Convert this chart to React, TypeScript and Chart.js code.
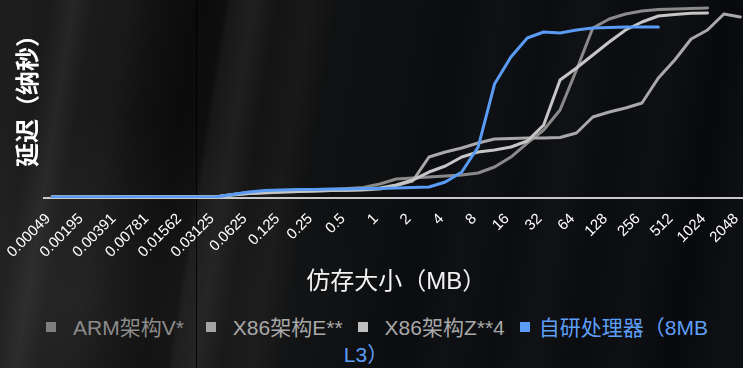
import React, { useEffect, useRef } from 'react';
import { Chart, registerables } from 'chart.js';

Chart.register(...registerables);

// Visible cache-size tick labels (MB); measurements were taken at half steps between them
const sizeLabels = ['0.00049', '0.00195', '0.00391', '0.00781', '0.01562', '0.03125', '0.0625', '0.125', '0.25', '0.5', '1', '2', '4', '8', '16', '32', '64', '128', '256', '512', '1024', '2048'];
const categories = sizeLabels.flatMap((l, i) => (i < sizeLabels.length - 1 ? [l, ''] : [l]));

// latency (ns), one value per measurement point (43 points)
const armV = [1.3, 1.3, 1.3, 1.3, 1.3, 1.3, 1.3, 1.3, 1.3, 1.3, 1.3, 3.5, 5.5, 6.5, 7, 7.5, 8, 8.5, 9.5, 10.5, 14, 19, 20, 21, 22, 23, 25, 31, 41, 55, 68, 88, 128, 170, 179, 184, 187, 188.5, 189, 189.5, 190, null, null];
const x86E = [1.1, 1.1, 1.1, 1.1, 1.1, 1.1, 1.1, 1.1, 1.1, 1.1, 1.1, 3.5, 4.5, 5, 6, 6.5, 7, 7.5, 7.5, 8, 9, 12.5, 17, 41, 46, 50, 55, 59, 59.5, 60, 60, 60.5, 65, 81, 86, 90, 95, 120, 138, 159, 168, 184, 181];
const x86Z = [1.2, 1.2, 1.2, 1.2, 1.2, 1.2, 1.2, 1.2, 1.2, 1.2, 1.2, 3, 4.5, 5.5, 6, 6.5, 7, 7.5, 8, 8.5, 10, 13, 18, 26, 32, 41, 46, 48, 51, 57, 73, 118, 130, 143, 156, 168, 176, 182, 183.5, 184.7, 185, null, null];
const ownCpu = [1.0, 1.0, 1.0, 1.0, 1.0, 1.0, 1.0, 1.0, 1.0, 1.0, 1.0, 3.5, 6, 7.5, 8, 8.5, 8.5, 9, 9, 9.5, 9.5, 10, 10.5, 11, 16, 26, 51, 114, 141, 160, 166, 165, 168, 170, 170.5, 171, 171, 171, null, null, null, null, null];

const seriesNames = ['ARM架构V*', 'X86架构E**', 'X86架构Z**4', '自研处理器（8MB L3）'];
const seriesData = [armV, x86E, x86Z, ownCpu];
const lineColors = ['#8a8a8a', '#a9a9a9', '#c6c6c6', '#5a9bf6'];
const boxColors = ['#7f7f7f', '#a5a5a5', '#bfbfbf', '#5b9cf8'];
const textColors = ['#8c8c8c', '#a8a8a8', '#a8a8a8', '#5d9ef7'];
const drawOrder = [3, 2, 1, 0];

const xTitle = '仿存大小（MB）';
const yTitle = '延迟（纳秒）';

const FONT = '"Liberation Sans", "Noto Sans CJK SC", Arial, sans-serif';

// background: dark streaked backdrop
const streaks: [number, string][] = [
  [0, '#1d1d1d'], [20, '#1a1a1a'], [45, '#262626'], [65, '#1b1b1b'], [100, '#191919'],
  [130, '#111111'], [170, '#0b0b0b'], [196, '#0e0e0e'], [202, '#181818'], [225, '#1f1f1f'],
  [250, '#141414'], [280, '#191919'], [310, '#101112'], [380, '#0e1012'], [430, '#0a0c0f'],
  [470, '#0f1114'], [520, '#0b0d10'], [560, '#101215'], [600, '#0a0c0f'], [650, '#0e1013'],
  [700, '#08090c'], [743, '#0e1013'],
];
const bgGradient =
  'linear-gradient(90deg, transparent 196px, rgba(0,0,0,0.85) 196px, rgba(0,0,0,0.85) 197px, transparent 197px), ' +
  'radial-gradient(ellipse 280px 190px at 90px 300px, rgba(255,255,255,0.05), rgba(255,255,255,0)), ' +
  'linear-gradient(99deg, ' + streaks.map(([x, c]) => `${c} ${(0.9877 * x + 28.8).toFixed(1)}px`).join(', ') + ')';

const itemGaps = [22, 15, 15, 0];

export default function App() {
  const canvasRef = useRef<HTMLCanvasElement>(null);

  useEffect(() => {
    const canvas = canvasRef.current;
    if (!canvas) return;
    const chart = new Chart(canvas, {
      type: 'line',
      data: {
        labels: categories,
        datasets: seriesNames.map((name, i) => ({
          label: name,
          data: seriesData[i],
          borderColor: lineColors[i],
          backgroundColor: lineColors[i],
          borderWidth: 3,
          pointRadius: 0,
          tension: 0,
          fill: false,
          order: drawOrder[i],
          borderJoinStyle: 'round' as const,
          borderCapStyle: 'round' as const,
        })),
      },
      options: {
        animation: false,
        responsive: false,
        maintainAspectRatio: false,
        devicePixelRatio: 1,
        layout: { padding: { top: 0, left: 12, right: 0, bottom: 0 } },
        plugins: { legend: { display: false }, tooltip: { enabled: false } },
        scales: {
          x: {
            type: 'category',
            offset: true,
            grid: { display: false, drawTicks: true, tickLength: 12 },
            border: { display: true, color: '#c8c8c8', width: 2 },
            ticks: {
              autoSkip: false,
              minRotation: 45,
              maxRotation: 45,
              padding: 0,
              labelOffset: -4,
              color: '#ffffff',
              font: { family: FONT, size: 15 },
            },
            title: {
              display: true,
              text: xTitle,
              color: '#f2f2f2',
              font: { family: FONT, size: 24 },
              padding: { top: 6.5, bottom: 3.6 },
            },
          },
          y: {
            min: 0,
            max: 206,
            grid: { display: false, drawTicks: false },
            border: { display: false },
            ticks: { display: false },
            title: {
              display: true,
              text: yTitle,
              color: '#ffffff',
              font: { family: FONT, size: 24, weight: 'bold' },
              padding: { top: 3.2, bottom: 0 },
            },
          },
        },
      },
    });
    return () => chart.destroy();
  }, []);

  return (
    <div
      style={{
        position: 'fixed',
        left: 0,
        top: 0,
        width: 743,
        height: 368,
        overflow: 'hidden',
        backgroundColor: '#0e1013',
        backgroundImage: bgGradient,
        fontFamily: FONT,
      }}
    >
      <canvas ref={canvasRef} width={753} height={308} style={{ position: 'absolute', left: 0, top: -8, width: 753, height: 308 }} />
      <div
        style={{
          position: 'absolute',
          left: 27,
          width: 700,
          top: 314,
          textAlign: 'center',
          fontSize: 21,
          lineHeight: '27px',
          whiteSpace: 'normal',
        }}
      >
        {seriesNames.map((name, i) => (
          <span
            key={name}
            style={{
              color: textColors[i],
              marginRight: itemGaps[i],
              paddingRight: i === seriesNames.length - 1 ? 22 : 0,
            }}
          >
            <span
              style={{
                display: 'inline-block',
                width: 10,
                height: 10,
                background: boxColors[i],
                marginRight: i < 3 ? 17 : 9,
                verticalAlign: 'middle',
                position: 'relative',
                top: -2,
              }}
            />
            {name}
          </span>
        ))}
      </div>
    </div>
  );
}
